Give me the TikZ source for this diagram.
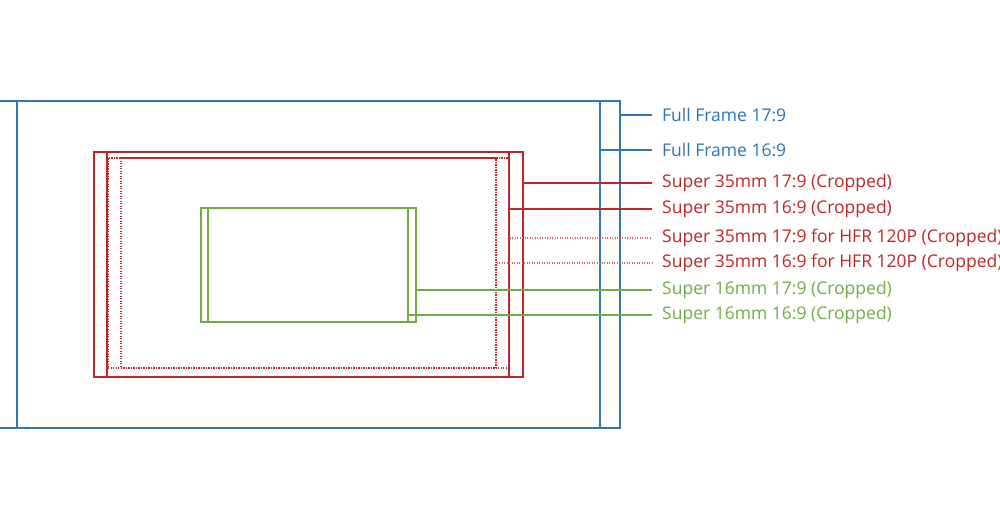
\documentclass[tikz,border=0pt]{standalone}
\usepackage{fontspec}
\setmainfont{Open Sans}
\definecolor{ffblue}{RGB}{46,117,182}
\definecolor{sred}{RGB}{192,38,38}
\definecolor{sgreen}{RGB}{112,173,71}
\begin{document}
\begin{tikzpicture}[x=1pt,y=-1pt,
  frame/.style={draw,line width=2pt,inner sep=0pt,fill=none},
  hfr/.style={draw=sred,line width=1.3pt,dash pattern=on 1.2pt off 1.3pt,inner sep=0pt},
  lab/.style={anchor=west,inner sep=0pt,font=\fontsize{17.5}{20}\selectfont},
  lead/.style={line width=1.5pt},
  dlead/.style={draw=sred!70,line width=1.1pt,dash pattern=on 1.2pt off 1.3pt}]
\useasboundingbox (0,0) rectangle (1000,517);
\fill[white] (0,0) rectangle (1000,517);
% Full frame
\node[frame,draw=ffblue,minimum width=623pt,minimum height=327pt] (ff17) at (308.5,264.5) {};
\node[frame,draw=ffblue,minimum width=583pt,minimum height=327pt] (ff16) at (308.5,264.5) {};
% Super 35
\node[frame,draw=sred,minimum width=429pt,minimum height=225pt] (s3517) at (308.5,264.5) {};
\node[frame,draw=sred,minimum width=402pt,minimum height=225pt] (s3516) at (308,264.5) {};
% HFR
\node[hfr,minimum width=401pt,minimum height=210pt] (h17) at (308.5,263) {};
\node[hfr,minimum width=375pt,minimum height=210pt] (h16) at (308.5,263) {};
% Super 16
\node[frame,draw=sgreen,line width=1.6pt,minimum width=215pt,minimum height=114pt] (s1617) at (308.5,265) {};
\node[frame,draw=sgreen,line width=1.6pt,minimum width=200pt,minimum height=114pt] (s1616) at (308,265) {};
% labels
\node[lab,text=ffblue] (lff17) at (662,115) {Full Frame 17:9};
\node[lab,text=ffblue] (lff16) at (662,150) {Full Frame 16:9};
\node[lab,text=sred] (ls3517) at (662,183) {Super 35mm 17:9 (Cropped)};
\node[lab,text=sred] (ls3516) at (662,209) {Super 35mm 16:9 (Cropped)};
\node[lab,text=sred] (lh17) at (662,238) {Super 35mm 17:9 for HFR 120P (Cropped)};
\node[lab,text=sred] (lh16) at (662,263) {Super 35mm 16:9 for HFR 120P (Cropped)};
\node[lab,text=sgreen] (ls1617) at (662,290) {Super 16mm 17:9 (Cropped)};
\node[lab,text=sgreen] (ls1616) at (662,315) {Super 16mm 16:9 (Cropped)};
% leaders
\draw[lead,ffblue] (ff17.east |- lff17.west) -- ([xshift=-10pt]lff17.west);
\draw[lead,ffblue] (ff16.east |- lff16.west) -- ([xshift=-10pt]lff16.west);
\draw[lead,sred] (s3517.east |- ls3517.west) -- ([xshift=-10pt]ls3517.west);
\draw[lead,sred] (s3516.east |- ls3516.west) -- ([xshift=-10pt]ls3516.west);
\draw[dlead] (h17.east |- lh17.west) -- ([xshift=-10pt]lh17.west);
\draw[dlead] (h16.east |- lh16.west) -- ([xshift=-10pt]lh16.west);
\draw[lead,sgreen] (s1617.east |- ls1617.west) -- ([xshift=-10pt]ls1617.west);
\draw[lead,sgreen] (s1616.east |- ls1616.west) -- ([xshift=-10pt]ls1616.west);
\end{tikzpicture}
\end{document}
